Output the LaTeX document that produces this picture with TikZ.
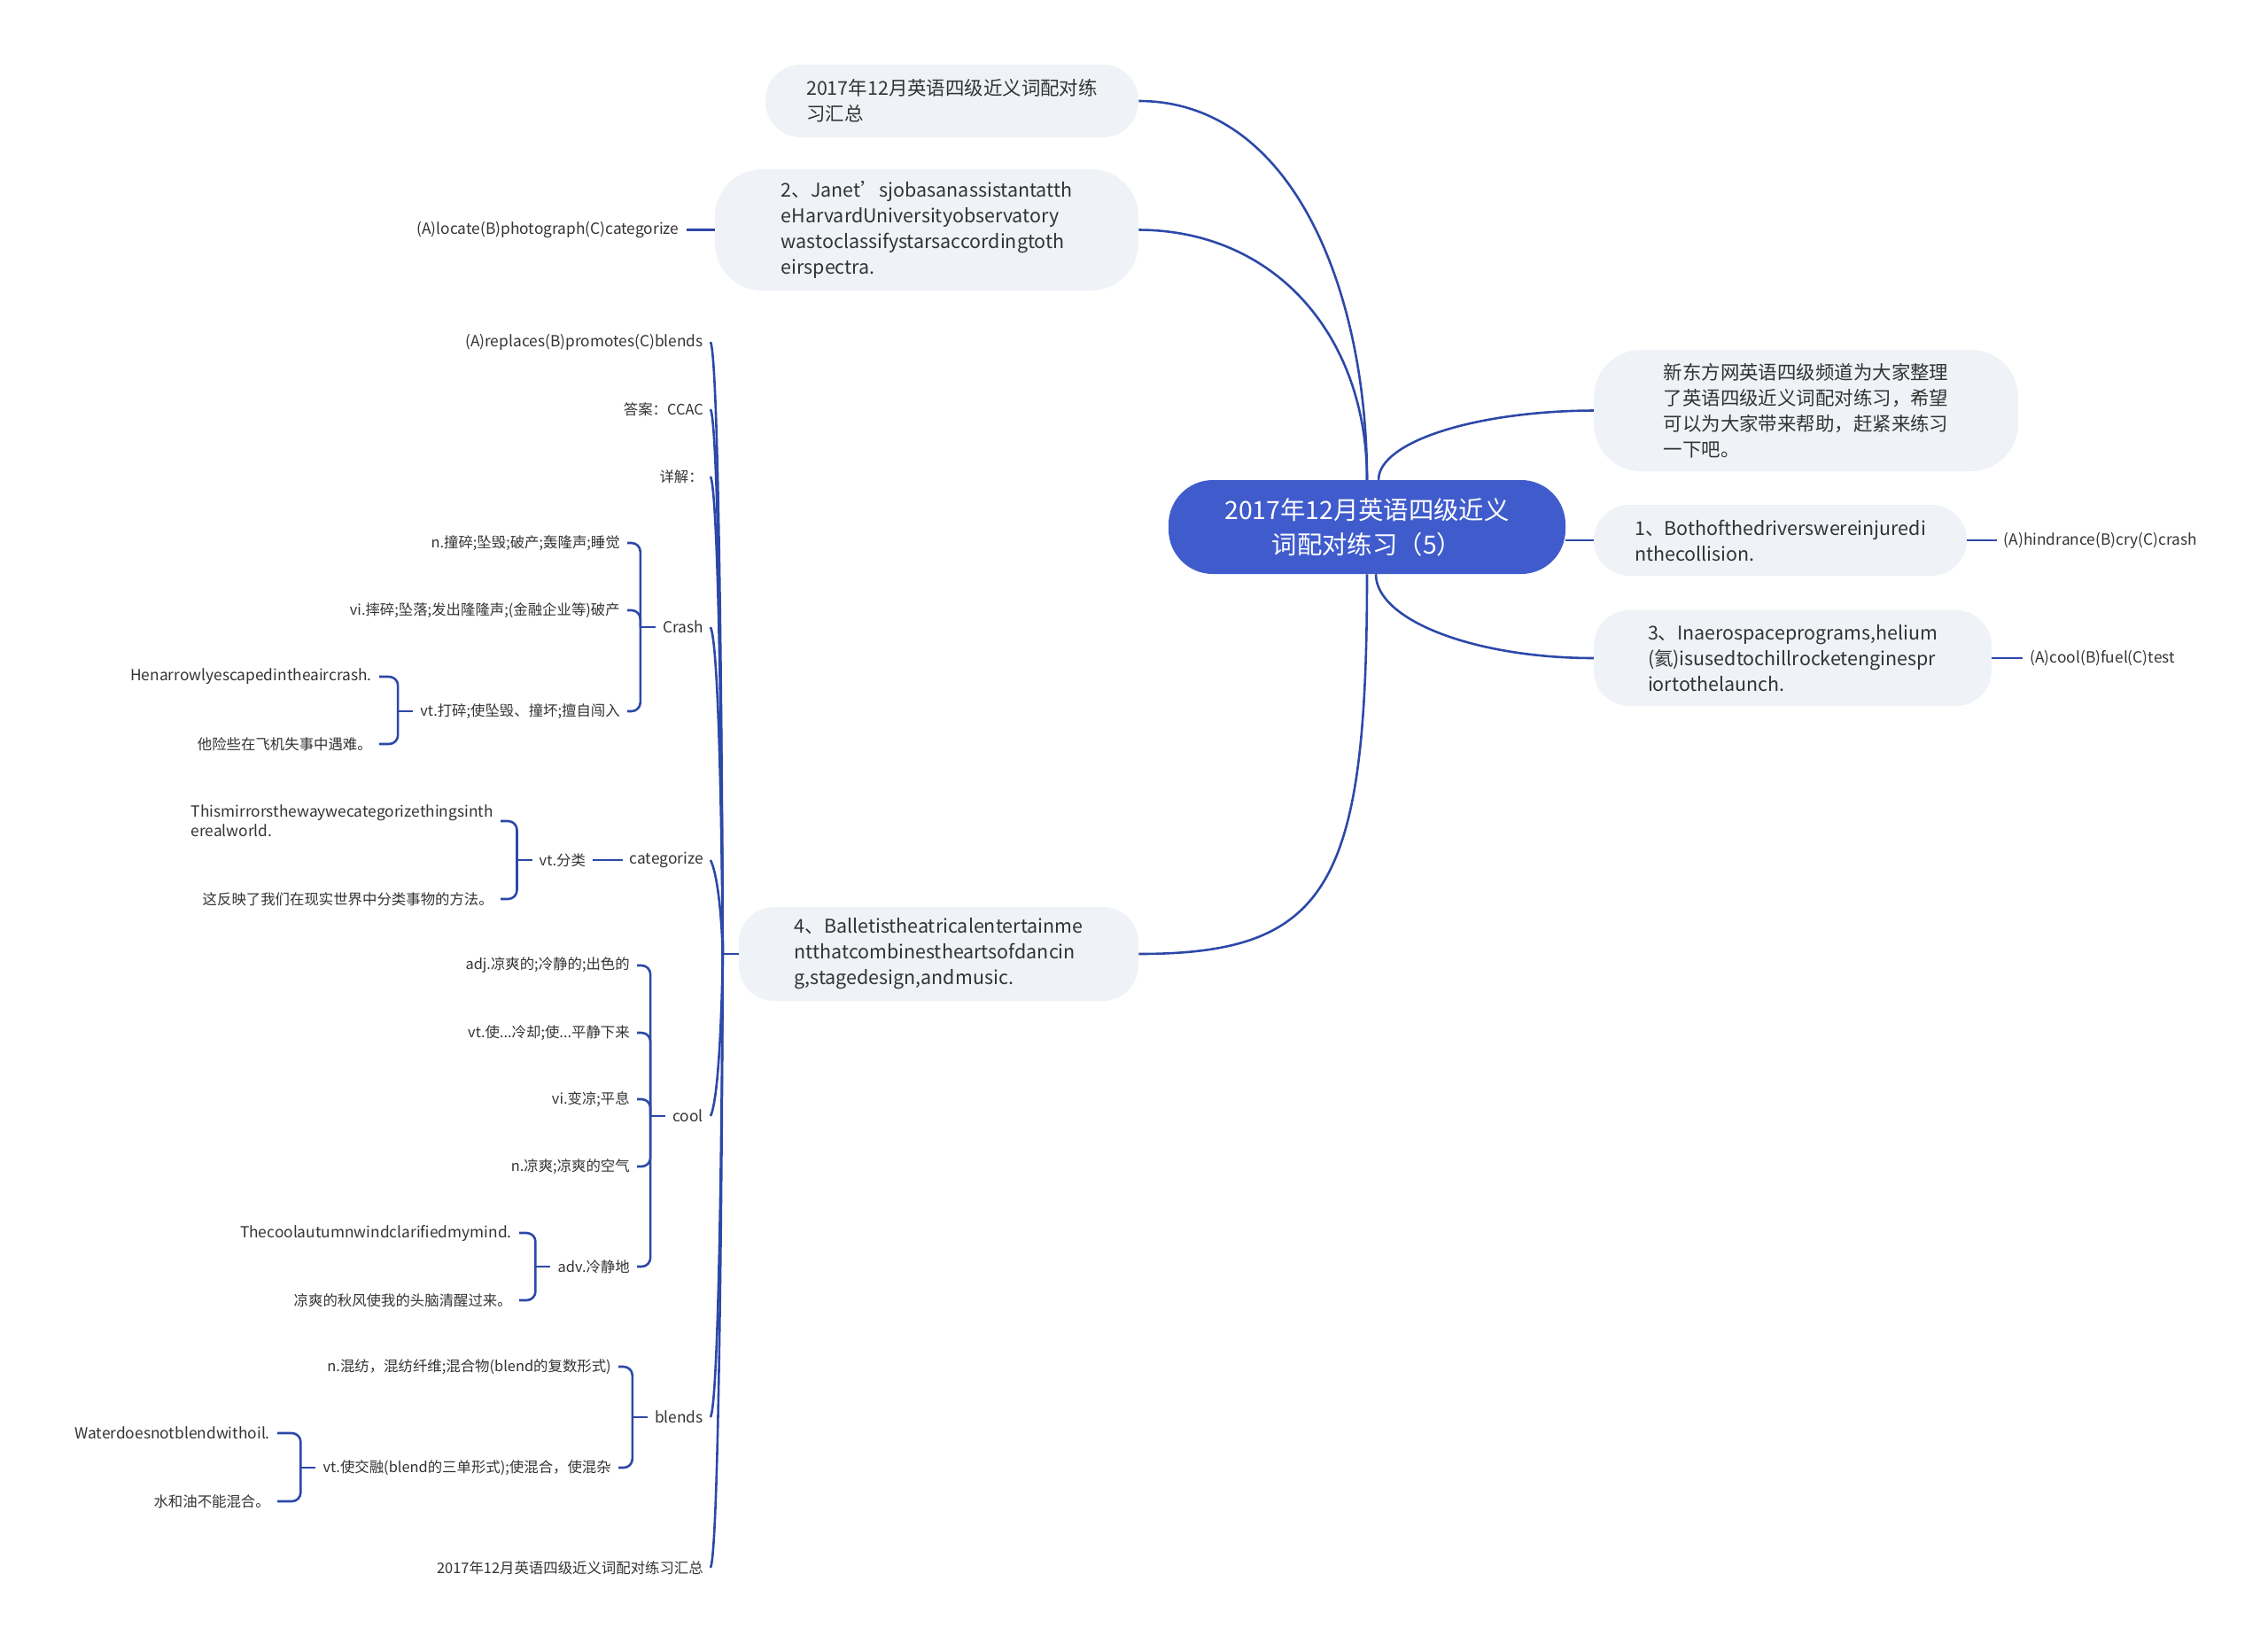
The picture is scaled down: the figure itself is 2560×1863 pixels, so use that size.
\documentclass[tikz,border=0pt]{standalone}
\usepackage{fontspec}
\setmainfont{Noto Sans CJK SC}
\usepackage{xcolor}
\usetikzlibrary{positioning, calc}

\definecolor{rootblue}{RGB}{64,92,204}
\definecolor{linkblue}{RGB}{44,72,168}
\definecolor{bubblegray}{RGB}{239,242,246}
\definecolor{textgray}{RGB}{51,51,51}

\begin{document}
\begin{tikzpicture}[
    x=0.03cm, y=-0.03cm,
    font=\fontsize{14}{18.7}\selectfont,
    rootBox/.style={
        rectangle,
        rounded corners=1.5cm,
        fill=rootblue,
        text=white,
        align=center,
        inner sep=0pt,
        font=\fontsize{24.2}{33.3}\selectfont
    },
    bubble/.style={
        rectangle,
        rounded corners=1.2cm,
        fill=bubblegray,
        text=textgray,
        align=left,
        inner sep=0pt,
        font=\fontsize{18.3}{24.7}\selectfont
    },
    leaf/.style={inner xsep=0.24cm, inner ysep=0.1cm, text=textgray, align=left},
    leafEn/.style={leaf, font=\fontsize{14.8}{18.7}\selectfont},
    link/.style={draw=linkblue, line width=2.2pt},
    hook/.style={link, rounded corners=0.3cm}
]
    \useasboundingbox (0,0) rectangle (2560,1863);

    % --- Root ---
    \node[rootBox, minimum width=13.44cm, minimum height=3.18cm] (root) at (1543,595)
        {2017年12月英语四级近义\\词配对练习（5）};

    % --- Right branches ---
    \node[bubble, minimum width=14.37cm, minimum height=4.11cm, rounded corners=1.6cm] (intro) at (2038.5,463.5)
        {新东方网英语四级频道为大家整理\\了英语四级近义词配对练习，希望\\可以为大家带来帮助，赶紧来练习\\一下吧。};
    \node[bubble, minimum width=12.63cm, minimum height=2.4cm] (q1) at (2009.5,610)
        {1、Bothofthedriverswereinjuredi\\nthecollision.};
    \node[leafEn, right=1cm of q1] (ans1) {(A)hindrance(B)cry(C)crash};
    \node[bubble, minimum width=13.47cm, minimum height=3.24cm] (q3) at (2023.5,743)
        {3、Inaerospaceprograms,helium\\(氦)isusedtochillrocketenginespr\\iortothelaunch.};
    \node[leafEn, right=1.05cm of q3] (ans3) {(A)cool(B)fuel(C)test};

    % --- Left branches ---
    \node[bubble, minimum width=12.63cm, minimum height=2.46cm] (summary) at (1074.5,114)
        {2017年12月英语四级近义词配对练\\习汇总};
    \node[bubble, minimum width=14.34cm, minimum height=4.11cm, rounded corners=1.6cm] (q2) at (1046,259.5)
        {2、Janet’sjobasanassistantatth\\eHarvardUniversityobservatory\\wastoclassifystarsaccordingtoth\\eirspectra.};
    \node[leafEn, left=0.96cm of q2] (ans2) {(A)locate(B)photograph(C)categorize};
    \node[bubble, minimum width=13.53cm, minimum height=3.18cm] (q4) at (1059.5,1077)
        {4、Balletistheatricalentertainme\\ntthatcombinestheartsofdancin\\g,stagedesign,andmusic.};

    % --- Question 4 details ---
    \node[leafEn, anchor=east] (opts) at (802,386) {(A)replaces(B)promotes(C)blends};
    \node[leaf, anchor=east] (key) at (802,462) {答案：CCAC};
    \node[leaf, anchor=east] (detail) at (802,538) {详解：};
    \node[leafEn, anchor=east] (crash) at (802,708) {Crash};
    \node[leafEn, anchor=east] (categ) at (802,971) {categorize};
    \node[leafEn, anchor=east] (cool) at (802,1260) {cool};
    \node[leafEn, anchor=east] (blends) at (802,1600) {blends};
    \node[leaf, anchor=east] (recap) at (802,1770) {2017年12月英语四级近义词配对练习汇总};

    % Crash
    \node[leaf, anchor=east] (crashN) at (708,613) {n.撞碎;坠毁;破产;轰隆声;睡觉};
    \node[leaf, anchor=east] (crashVi) at (708,689) {vi.摔碎;坠落;发出隆隆声;(金融企业等)破产};
    \node[leaf, anchor=east] (crashVt) at (708,803) {vt.打碎;使坠毁、撞坏;擅自闯入};
    \node[leafEn, anchor=east] (crashEn) at (428,764) {Henarrowlyescapedintheaircrash.};
    \node[leaf, anchor=east] (crashZh) at (428,840) {他险些在飞机失事中遇难。};

    % categorize
    \node[leaf, left=1cm of categ] (catVt) {vt.分类};
    \node[leafEn, anchor=east] (catEn) at (565,927) {Thismirrorsthewaywecategorizethingsinth\\erealworld.};
    \node[leaf, anchor=east] (catZh) at (565,1015) {这反映了我们在现实世界中分类事物的方法。};

    % cool
    \node[leaf, anchor=east] (coolAdj) at (719,1090) {adj.凉爽的;冷静的;出色的};
    \node[leaf, anchor=east] (coolVt) at (719,1166) {vt.使...冷却;使...平静下来};
    \node[leaf, anchor=east] (coolVi) at (719,1241) {vi.变凉;平息};
    \node[leaf, anchor=east] (coolN) at (719,1317) {n.凉爽;凉爽的空气};
    \node[leaf, anchor=east] (coolAdv) at (719,1430) {adv.冷静地};
    \node[leafEn, anchor=east] (coolEn) at (586,1392) {Thecoolautumnwindclarifiedmymind.};
    \node[leaf, anchor=east] (coolZh) at (586,1468) {凉爽的秋风使我的头脑清醒过来。};

    % blends
    \node[leaf, anchor=east] (blendN) at (698,1543) {n.混纺，混纺纤维;混合物(blend的复数形式)};
    \node[leaf, anchor=east] (blendVt) at (698,1657) {vt.使交融(blend的三单形式);使混合，使混杂};
    \node[leafEn, anchor=east] (blendEn) at (313,1618) {Waterdoesnotblendwithoil.};
    \node[leaf, anchor=east] (blendZh) at (313,1695) {水和油不能混合。};

    % --- Connections from the root ---
    \draw[link] (root.north) .. controls (1543,330) and (1460,114) .. (summary.east);
    \draw[link] (root.north) .. controls (1543,380) and (1440,260) .. (q2.east);
    \draw[link] (root.south) .. controls (1543,1000) and (1500,1077) .. (q4.east);
    \draw[link] ($(root.north)+(13,0)$) .. controls (1556,499) and (1665,464) .. (intro.west);
    \draw[link] (root.east |- q1.west) -- (q1.west);
    \draw[link] ($(root.south)+(10,0)$) .. controls (1553,700) and (1664,743) .. (q3.west);

    \draw[link] (q1.east) -- (ans1.west);
    \draw[link] (q3.east) -- (ans3.west);
    \draw[link] (q2.west) -- (ans2.east);

    % --- Question 4 tree ---
    \draw[link] (q4.west) -- ++(-18,0) coordinate (q4Fork);
    \foreach \c in {opts,key,detail,crash,categ}
        \draw[link] (\c.east) .. controls +(12,25) and (q4Fork) .. (q4Fork);
    \foreach \c in {cool,blends,recap}
        \draw[link] (\c.east) .. controls +(12,-25) and (q4Fork) .. (q4Fork);

    \draw[link] (crash.west) -- ++(-17,0) coordinate (crashFork);
    \foreach \c in {crashN,crashVi,crashVt}
        \draw[hook] (crashFork) |- (\c.east);
    \draw[link] (crashVt.west) -- ++(-17,0) coordinate (crashVtFork);
    \foreach \c in {crashEn,crashZh}
        \draw[hook] (crashVtFork) |- (\c.east);

    \draw[link] (categ.west) -- (catVt.east);
    \draw[link] (catVt.west) -- ++(-17,0) coordinate (catFork);
    \foreach \c in {catEn,catZh}
        \draw[hook] (catFork) |- (\c.east);

    \draw[link] (cool.west) -- ++(-17,0) coordinate (coolFork);
    \foreach \c in {coolAdj,coolVt,coolVi,coolN,coolAdv}
        \draw[hook] (coolFork) |- (\c.east);
    \draw[link] (coolAdv.west) -- ++(-17,0) coordinate (coolAdvFork);
    \foreach \c in {coolEn,coolZh}
        \draw[hook] (coolAdvFork) |- (\c.east);

    \draw[link] (blends.west) -- ++(-17,0) coordinate (blendFork);
    \foreach \c in {blendN,blendVt}
        \draw[hook] (blendFork) |- (\c.east);
    \draw[link] (blendVt.west) -- ++(-17,0) coordinate (blendVtFork);
    \foreach \c in {blendEn,blendZh}
        \draw[hook] (blendVtFork) |- (\c.east);
\end{tikzpicture}
\end{document}
